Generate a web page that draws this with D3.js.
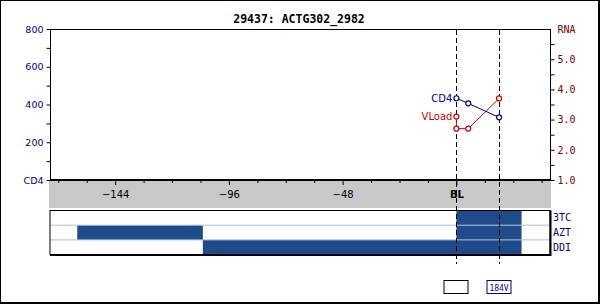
<!DOCTYPE html>
<html>
<head>
<meta charset="utf-8">
<script src="https://cdn.jsdelivr.net/npm/d3@7/dist/d3.min.js"></script>
<style>
	body { margin: 0; background: #fff; }
	svg { display: block; }
</style>
</head>
<body>
<div></div>
<script>
const width = 600;
const height = 304;

// data
const title = "29437: ACTG302_2982";
const cd4_weeks = [0, 5, 18];
const cd4_values = [433, 406, 332];
const vload_weeks = [0, 0, 5, 18];
const vload_values = [3.1, 2.7, 2.7, 3.7];
const visit_weeks = [0, 18];
const mutation_labels = ["", "184V"];
const drugs = ["3TC", "AZT", "DDI"];
const drug_names = ["3TC", "AZT", "AZT", "DDI"];
const drug_starts = [0, -160, 0, -107];
const drug_ends = [27.5, -107, 27.5, 27.5];
const x_ticks = [-168, -156, -144, -132, -120, -108, -96, -84, -72, -60, -48, -36, -24, -12, 0, 12, 24, 36];
const cd4_ticks = [0, 100, 200, 300, 400, 500, 600, 700, 800];
const rna_ticks = [1, 1.5, 2, 2.5, 3, 3.5, 4, 4.5, 5, 5.5, 6];

const navy = "#000088";
const red = "#cc0000";
const darkred = "#800000";
const bar_color = "#1f4b8a";

var svg = d3.select("div")
	.append("svg")
	.attr("width", width)
	.attr("height", height)
	.style("font-family", "DejaVu Sans");

var x = d3.scaleLinear().domain([-171.5, 39.5]).range([50, 550]);
var y_cd4 = d3.scaleLinear().domain([0, 800]).range([180, 29]);
var y_rna = d3.scaleLinear().domain([1, 6]).range([180, 29]);

// outer frame
svg.append("rect")
	.attr("x", 0.5).attr("y", 0.5)
	.attr("width", width - 2).attr("height", height - 2)
	.attr("fill", "none").attr("stroke", "#000");
svg.append("line")
	.attr("x1", 0).attr("x2", width).attr("y1", height - 1).attr("y2", height - 1)
	.attr("stroke", "#000").attr("stroke-width", 2);
svg.append("line")
	.attr("x1", width - 1).attr("x2", width - 1).attr("y1", 0).attr("y2", height)
	.attr("stroke", "#000").attr("stroke-width", 2);

// title
svg.append("text")
	.attr("x", 299).attr("y", 23)
	.attr("text-anchor", "middle")
	.style("font-family", "DejaVu Sans Mono")
	.style("font-weight", "bold")
	.style("font-size", "11.5px")
	.text(title);

// gray band under x axis
svg.append("rect")
	.attr("x", 49).attr("y", 180)
	.attr("width", 502).attr("height", 28)
	.attr("fill", "#c8c8c8");

// frame of plot
svg.append("line")
	.attr("x1", 50).attr("x2", 550).attr("y1", 29.5).attr("y2", 29.5)
	.attr("stroke", "#000");

// left axis
var left_axis = svg.append("g")
	.attr("transform", "translate(50.5,0)")
	.call(d3.axisLeft(y_cd4)
		.tickValues(cd4_ticks)
		.tickSize(4)
		.tickPadding(3)
		.tickFormat(function (d) {
			if (d === 0) return "CD4";
			return d % 200 === 0 ? d : "";
		}));
left_axis.select(".domain").remove();
left_axis.selectAll("line").attr("stroke", "#000");
left_axis.selectAll("text")
	.attr("fill", navy)
	.style("font-family", "DejaVu Sans")
	.style("font-size", "9.5px");
left_axis.append("line")
	.attr("x1", 0).attr("x2", 0).attr("y1", 29).attr("y2", 181)
	.attr("stroke", "#000");

// right axis
var right_axis = svg.append("g")
	.attr("transform", "translate(550.5,0)")
	.call(d3.axisRight(y_rna)
		.tickValues(rna_ticks)
		.tickSize(4)
		.tickPadding(3)
		.tickFormat(function (d) {
			if (d === 6) return "RNA";
			return Number.isInteger(d) ? d.toFixed(1) : "";
		}));
right_axis.select(".domain").remove();
right_axis.selectAll("line").attr("stroke", "#000")
	.filter(function (d) { return d === 6; }).remove();
right_axis.selectAll("text")
	.attr("fill", darkred)
	.style("font-family", "DejaVu Sans Mono")
	.style("font-size", "10px");
right_axis.append("line")
	.attr("x1", 0).attr("x2", 0).attr("y1", 29).attr("y2", 181)
	.attr("stroke", "#000");

// bottom axis
var bottom_axis = svg.append("g")
	.attr("transform", "translate(0,180)")
	.call(d3.axisBottom(x)
		.tickValues(x_ticks)
		.tickSize(3)
		.tickPadding(8)
		.tickFormat(function (d) {
			if (d === 0) return "BL";
			return d % 48 === 0 ? d3.format("d")(d).replace("-", "\u2212") : "";
		}));
bottom_axis.select(".domain").remove();
bottom_axis.selectAll("line").attr("stroke", "#000")
	.attr("y2", function (d) { return d % 48 === 0 ? 5 : 3; });
bottom_axis.selectAll("text")
	.attr("fill", "#000")
	.style("font-family", "DejaVu Sans")
	.style("font-size", "10px")
	.style("font-weight", function (d) { return d === 0 ? "bold" : "normal"; });
bottom_axis.append("line")
	.attr("x1", 50).attr("x2", 551).attr("y1", 0).attr("y2", 0)
	.attr("stroke", "#000").attr("stroke-width", 2);

// drug panel
var row_h = 14.7;
var panel_top = 210.5;
var y_drug = d3.scaleBand().domain(drugs).range([panel_top, panel_top + row_h * drugs.length]);

var drug_g = svg.append("g").attr("class", "drugs");
drug_g.append("rect")
	.attr("x", 50).attr("y", panel_top)
	.attr("width", 500).attr("height", row_h * drugs.length)
	.attr("fill", "#fff");
drug_g.selectAll(".bar")
	.data(drug_names)
	.enter()
	.append("rect")
	.attr("class", "bar")
	.attr("x", function (d, i) { return x(drug_starts[i]); })
	.attr("width", function (d, i) { return x(drug_ends[i]) - x(drug_starts[i]); })
	.attr("y", function (d) { return y_drug(d); })
	.attr("height", y_drug.bandwidth())
	.attr("fill", bar_color);
drug_g.selectAll(".sep")
	.data(drugs.slice(1))
	.enter()
	.append("line")
	.attr("x1", 50).attr("x2", 550)
	.attr("y1", function (d) { return y_drug(d); })
	.attr("y2", function (d) { return y_drug(d); })
	.attr("stroke", "#a8c0dc");
drug_g.append("rect")
	.attr("x", 50).attr("y", panel_top)
	.attr("width", 500).attr("height", row_h * drugs.length)
	.attr("fill", "none").attr("stroke", "#000");
drug_g.append("polyline")
	.attr("points", [[50, panel_top + row_h * 3 + 0.5], [550.5, panel_top + row_h * 3 + 0.5], [550.5, panel_top]].join(" "))
	.attr("fill", "none").attr("stroke", "#000").attr("stroke-width", 2);
drug_g.selectAll(".label")
	.data(drugs)
	.enter()
	.append("text")
	.attr("x", 553)
	.attr("y", function (d) { return y_drug(d) + y_drug.bandwidth() / 2 + 3.5; })
	.attr("fill", navy)
	.style("font-family", "DejaVu Sans Mono")
	.style("font-size", "10px")
	.text(function (d) { return d; });

// visit lines
svg.selectAll(".visit")
	.data(visit_weeks)
	.enter()
	.append("line")
	.attr("class", "visit")
	.attr("x1", function (d) { return Math.round(x(d)) + 0.5; })
	.attr("x2", function (d) { return Math.round(x(d)) + 0.5; })
	.attr("y1", 30).attr("y2", 264)
	.attr("stroke", "#000")
	.attr("stroke-dasharray", "5,3");

// mutation boxes
var mut_g = svg.selectAll(".mut")
	.data(mutation_labels)
	.enter()
	.append("g")
	.attr("transform", function (d, i) { return "translate(" + Math.round(x(visit_weeks[i])) + ",0)"; });
mut_g.append("rect")
	.attr("x", -12).attr("y", 280.5)
	.attr("width", 24).attr("height", 13)
	.attr("fill", "#fff")
	.attr("stroke", function (d) { return d ? navy : "#000"; });
mut_g.append("text")
	.attr("x", 0).attr("y", 290.5)
	.attr("text-anchor", "middle")
	.attr("fill", navy)
	.style("font-family", "DejaVu Sans Mono")
	.style("font-size", "8px")
	.text(function (d) { return d; });

// series
var cd4_line = d3.line()
	.x(function (d, i) { return x(cd4_weeks[i]); })
	.y(function (d) { return y_cd4(d); });
var vload_line = d3.line()
	.x(function (d, i) { return x(vload_weeks[i]); })
	.y(function (d) { return y_rna(d); });

svg.append("path")
	.attr("d", vload_line(vload_values))
	.attr("fill", "none").attr("stroke", red).attr("stroke-width", 1);
svg.append("path")
	.attr("d", cd4_line(cd4_values))
	.attr("fill", "none").attr("stroke", navy).attr("stroke-width", 1);

svg.selectAll(".vpt")
	.data(vload_values)
	.enter()
	.append("circle")
	.attr("cx", function (d, i) { return x(vload_weeks[i]); })
	.attr("cy", function (d) { return y_rna(d); })
	.attr("r", 2.5)
	.attr("fill", "#fff").attr("stroke", red).attr("stroke-width", 1.2);
svg.selectAll(".cpt")
	.data(cd4_values)
	.enter()
	.append("circle")
	.attr("cx", function (d, i) { return x(cd4_weeks[i]); })
	.attr("cy", function (d) { return y_cd4(d); })
	.attr("r", 2.5)
	.attr("fill", "#fff").attr("stroke", navy).attr("stroke-width", 1.2);

svg.append("text")
	.attr("x", x(cd4_weeks[0]) - 4)
	.attr("y", y_cd4(cd4_values[0]) + 3.5)
	.attr("text-anchor", "end")
	.attr("fill", navy)
	.style("font-size", "10px")
	.text("CD4");
svg.append("text")
	.attr("x", x(vload_weeks[0]) - 4)
	.attr("y", y_rna(vload_values[0]) + 3.5)
	.attr("text-anchor", "end")
	.attr("fill", red)
	.style("font-size", "10px")
	.text("VLoad");
</script>
</body>
</html>
